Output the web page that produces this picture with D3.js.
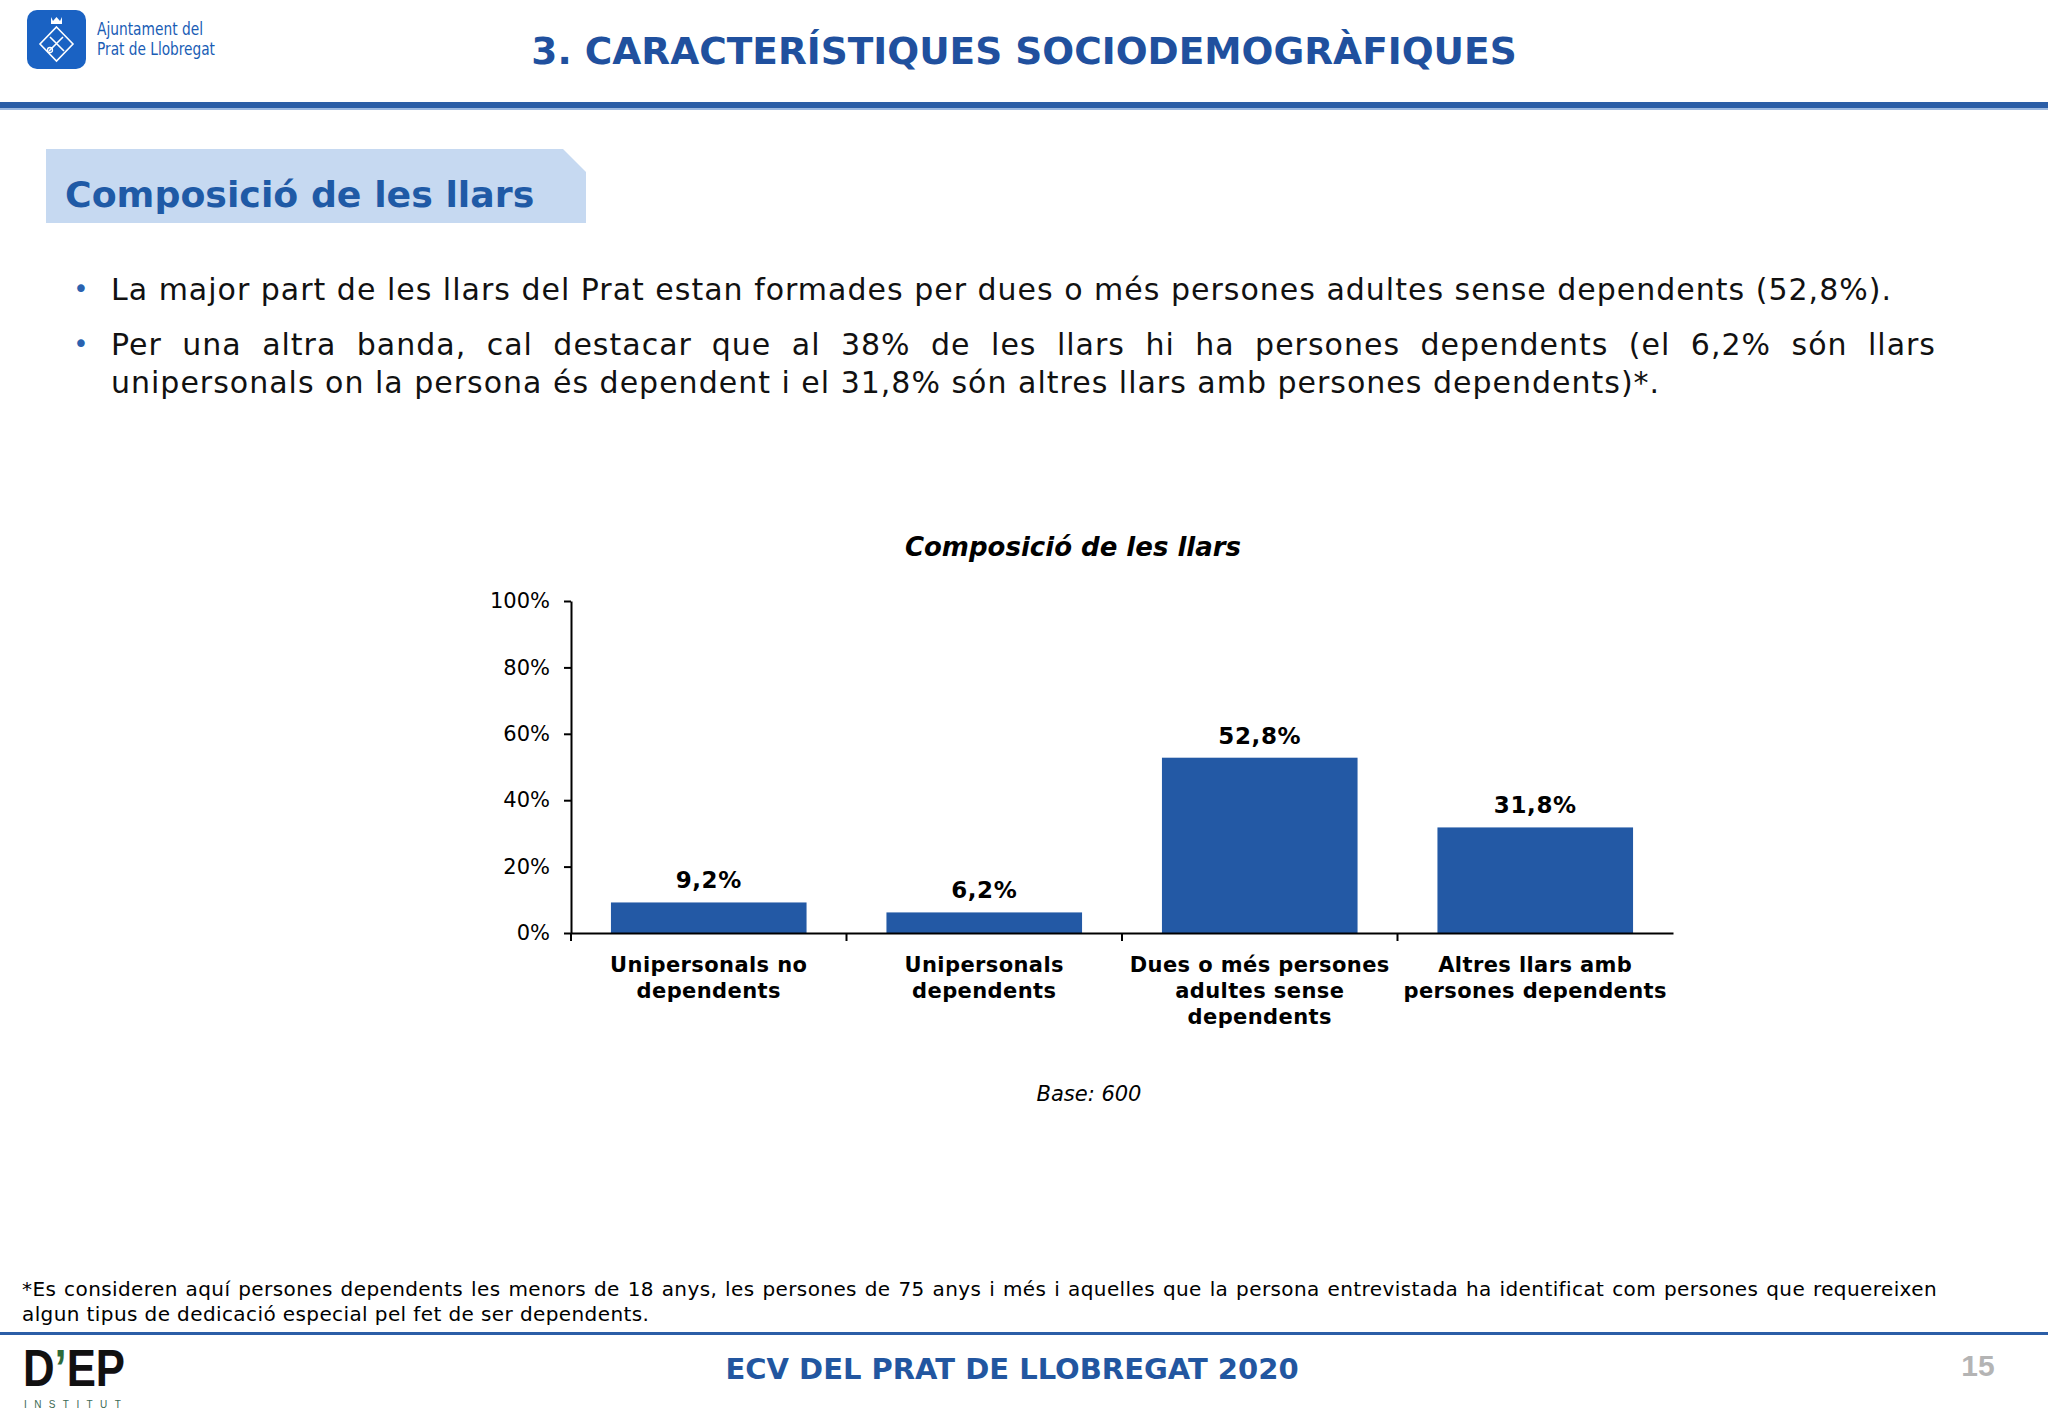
<!DOCTYPE html>
<html><head><meta charset="utf-8">
<script src="https://cdn.jsdelivr.net/npm/d3@7"></script>
<style>html,body{margin:0;padding:0;background:#fff;} svg{display:block;}</style>
</head><body><svg id="c" width="2048" height="1418"></svg>
<script>
// ---------- data ----------
const categories = ["Unipersonals no dependents", "Unipersonals dependents", "Dues o més persones adultes sense dependents", "Altres llars amb persones dependents"];
const categoryLines = [["Unipersonals no", "dependents"], ["Unipersonals", "dependents"], ["Dues o més persones", "adultes sense", "dependents"], ["Altres llars amb", "persones dependents"]];
const values = [9.2, 6.2, 52.8, 31.8];
const valueLabels = ["9,2%", "6,2%", "52,8%", "31,8%"];
const yTicks = [0, 20, 40, 60, 80, 100];
const pageTitle = "3. CARACTERÍSTIQUES SOCIODEMOGRÀFIQUES";
const sectionTitle = "Composició de les llars";
const chartTitle = "Composició de les llars";
const baseNote = "Base: 600";
const bulletLines = [
  {text: "La major part de les llars del Prat estan formades per dues o més persones adultes sense dependents (52,8%).", bullet: true, justify: false},
  {text: "Per una altra banda, cal destacar que al 38% de les llars hi ha persones dependents (el 6,2% són llars", bullet: true, justify: true},
  {text: "unipersonals on la persona és dependent i el 31,8% són altres llars amb persones dependents)*.", bullet: false, justify: false}
];
const footnoteLines = [
  "*Es consideren aquí persones dependents les menors de 18 anys, les persones de 75 anys i més i aquelles que la persona entrevistada ha identificat com persones que requereixen",
  "algun tipus de dedicació especial pel fet de ser dependents."
];
const footerText = "ECV DEL PRAT DE LLOBREGAT 2020";
const pageNumber = "15";
const logoLines = ["Ajuntament del", "Prat de Llobregat"];
const depText = "D’EP";

// ---------- drawing ----------
const svg = d3.select("#c");
const FONT = "'DejaVu Sans', Verdana, sans-serif";
const BLUE = "#20509e";

svg.append("rect").attr("width", 2048).attr("height", 1418).attr("fill", "#fff");

// gradient to colour the D'EP apostrophe green
const grad = svg.append("defs").append("linearGradient").attr("id", "depGrad")
  .attr("gradientUnits", "userSpaceOnUse").attr("x1", 23).attr("x2", 125).attr("y1", 0).attr("y2", 0);
[[0, "#111"], [(55 - 23) / 102, "#111"], [(55 - 23) / 102, "#2e6b3a"], [(66 - 23) / 102, "#2e6b3a"], [(66 - 23) / 102, "#111"], [1, "#111"]]
  .forEach(s => grad.append("stop").attr("offset", s[0]).attr("stop-color", s[1]));

// Top-left logo
const lg = svg.append("g");
lg.append("rect").attr("x", 27).attr("y", 10).attr("width", 59).attr("height", 59).attr("rx", 10).attr("fill", "#1a62c3");
lg.append("path").attr("d", "M56.5,27 L73,44 L56.5,61 L40,44 Z").attr("fill", "none").attr("stroke", "#fff").attr("stroke-width", 1.6);
lg.append("path").attr("d", "M51,17 L53,21 L56.5,17 L60,21 L62,17 L62,24 L51,24 Z").attr("fill", "#fff");
lg.append("path").attr("d", "M49,51 L63,37 M50,37 L64,51").attr("stroke", "#fff").attr("stroke-width", 1.6);
lg.append("circle").attr("cx", 50).attr("cy", 50).attr("r", 2.5).attr("fill", "none").attr("stroke", "#fff").attr("stroke-width", 1.3);
lg.selectAll("text.logo").data(logoLines).join("text").attr("class", "logo")
  .attr("x", 97).attr("y", (d, i) => 35 + i * 20)
  .attr("font-family", "'DejaVu Sans Condensed', 'DejaVu Sans', sans-serif").attr("font-size", 17)
  .attr("fill", "#1a5db5")
  .attr("textLength", (d, i) => i === 0 ? 106 : 118).attr("lengthAdjust", "spacingAndGlyphs")
  .text(d => d);

// Page title
svg.append("text").attr("x", 1024).attr("y", 64).attr("text-anchor", "middle")
  .attr("font-family", FONT).attr("font-weight", "bold").attr("font-size", 37.5)
  .attr("fill", BLUE).text(pageTitle);

// Top band
svg.append("rect").attr("x", 0).attr("y", 102).attr("width", 2048).attr("height", 6).attr("fill", "#2b5ea7");
svg.append("rect").attr("x", 0).attr("y", 108).attr("width", 2048).attr("height", 2).attr("fill", "#9db9e0");

// Section header box
svg.append("path").attr("d", "M46,149 L563,149 L586,172 L586,223 L46,223 Z").attr("fill", "#c6d9f1");
svg.append("text").attr("x", 65).attr("y", 207)
  .attr("font-family", FONT).attr("font-weight", "bold").attr("font-size", 36.3)
  .attr("fill", "#1f5aa6").text(sectionTitle);

function justifyLine(t, text, x0, x1, justify) {
  if (!justify) { t.attr("x", x0).text(text); return; }
  const words = text.split(" ");
  const spans = words.map(w => t.append("tspan").text(w));
  const widths = spans.map(s => s.node().getComputedTextLength());
  const total = d3.sum(widths);
  const gap = (x1 - x0 - total) / (words.length - 1);
  let x = x0;
  spans.forEach((s, k) => { s.attr("x", x); x += widths[k] + gap; });
}

// Bullet text
const lineY = [300, 355, 393];
const textX = 111, rightEdge = 1936;
bulletLines.forEach((ln, i) => {
  if (ln.bullet) {
    svg.append("text").attr("x", 81).attr("y", lineY[i] - 2).attr("text-anchor", "middle")
      .attr("font-family", FONT).attr("font-size", 26).attr("fill", "#2a62b0").text("•");
  }
  const t = svg.append("text").attr("y", lineY[i]).attr("font-family", FONT)
    .attr("font-size", 30).attr("letter-spacing", 1).attr("fill", "#111");
  justifyLine(t, ln.text, textX, rightEdge, ln.justify);
});

// ---------- chart ----------
const x = d3.scaleBand().domain(categories).range([571, 1673]).paddingInner(0.29).paddingOuter(0.145);
const y = d3.scaleLinear().domain([0, 100]).range([933, 601]);

svg.append("text").attr("x", 1073).attr("y", 556).attr("text-anchor", "middle")
  .attr("font-family", FONT).attr("font-weight", "bold").attr("font-style", "italic")
  .attr("font-size", 26).attr("fill", "#000").text(chartTitle);

// bars
svg.append("g").selectAll("rect").data(values).join("rect")
  .attr("x", (d, i) => x(categories[i])).attr("width", x.bandwidth())
  .attr("y", d => y(d)).attr("height", d => y(0) - y(d))
  .attr("fill", "#2359a5");

// value labels
svg.append("g").selectAll("text").data(values).join("text")
  .attr("x", (d, i) => x(categories[i]) + x.bandwidth() / 2)
  .attr("y", d => y(d) - 14).attr("text-anchor", "middle")
  .attr("font-family", FONT).attr("font-weight", "bold").attr("font-size", 23)
  .attr("letter-spacing", 0.6).attr("fill", "#000")
  .text((d, i) => valueLabels[i]);

// y axis
const yAxis = svg.append("g").attr("transform", "translate(571,0)")
  .call(d3.axisLeft(y).tickValues(yTicks).tickFormat(d => d + "%").tickSize(7).tickSizeOuter(0).tickPadding(14));
yAxis.select(".domain").attr("stroke", "#000").attr("stroke-width", 2);
yAxis.selectAll(".tick line").attr("stroke", "#000").attr("stroke-width", 2);
yAxis.selectAll(".tick text").attr("font-family", FONT).attr("font-size", 21).attr("fill", "#000");

// x axis
const xAxis = svg.append("g").attr("transform", "translate(0,933)")
  .call(d3.axisBottom(x).tickSize(0).tickSizeOuter(0).tickFormat(""));
xAxis.select(".domain").attr("stroke", "#000").attr("stroke-width", 2);
const step = x.step();
const boundaries = categories.map(c => x(c) - step * x.paddingInner() / 2);
xAxis.selectAll("line.bnd").data(boundaries).join("line").attr("class", "bnd")
  .attr("x1", d => d).attr("x2", d => d).attr("y1", 0).attr("y2", 8)
  .attr("stroke", "#000").attr("stroke-width", 2);

// category labels
const cl = svg.append("g").selectAll("text").data(categories).join("text")
  .attr("text-anchor", "middle").attr("font-family", FONT).attr("font-weight", "bold")
  .attr("font-size", 21).attr("letter-spacing", 0.4).attr("fill", "#000");
cl.each(function(c, i) {
  const cx = x(c) + x.bandwidth() / 2;
  d3.select(this).selectAll("tspan").data(categoryLines[i]).join("tspan")
    .attr("x", cx).attr("y", (d, k) => 972 + k * 26).text(d => d);
});

// base note
svg.append("text").attr("x", 1089).attr("y", 1101).attr("text-anchor", "middle")
  .attr("font-family", FONT).attr("font-style", "italic").attr("font-size", 21).attr("fill", "#000")
  .text(baseNote);

// footnote
footnoteLines.forEach((ln, i) => {
  const t = svg.append("text").attr("y", 1296 + i * 25).attr("font-family", FONT)
    .attr("font-size", 20).attr("letter-spacing", 0.4).attr("fill", "#000");
  justifyLine(t, ln, 22, 1937, i === 0);
});

// footer line
svg.append("rect").attr("x", 0).attr("y", 1332).attr("width", 2048).attr("height", 3).attr("fill", "#2b5ea7");

// footer text
svg.append("text").attr("x", 1012).attr("y", 1379).attr("text-anchor", "middle")
  .attr("font-family", FONT).attr("font-weight", "bold").attr("font-size", 29)
  .attr("fill", "#2256a0").text(footerText);
svg.append("text").attr("x", 1978).attr("y", 1376).attr("text-anchor", "middle")
  .attr("font-family", "'Liberation Sans', Arial, sans-serif").attr("font-weight", "bold").attr("font-size", 30)
  .attr("fill", "#b4b4b4").text(pageNumber);

// D'EP logo
svg.append("text").attr("x", 23).attr("y", 1386)
  .attr("font-family", "'Liberation Sans', Arial, sans-serif").attr("font-weight", "bold").attr("font-size", 52)
  .attr("textLength", 102).attr("lengthAdjust", "spacingAndGlyphs").attr("fill", "url(#depGrad)").text(depText);
svg.append("text").attr("x", 24).attr("y", 1408)
  .attr("font-family", "'Liberation Sans', Arial, sans-serif").attr("font-size", 10).attr("letter-spacing", 7.4)
  .attr("fill", "#3d6b55").text("INSTITUT");
</script>
</body></html>
